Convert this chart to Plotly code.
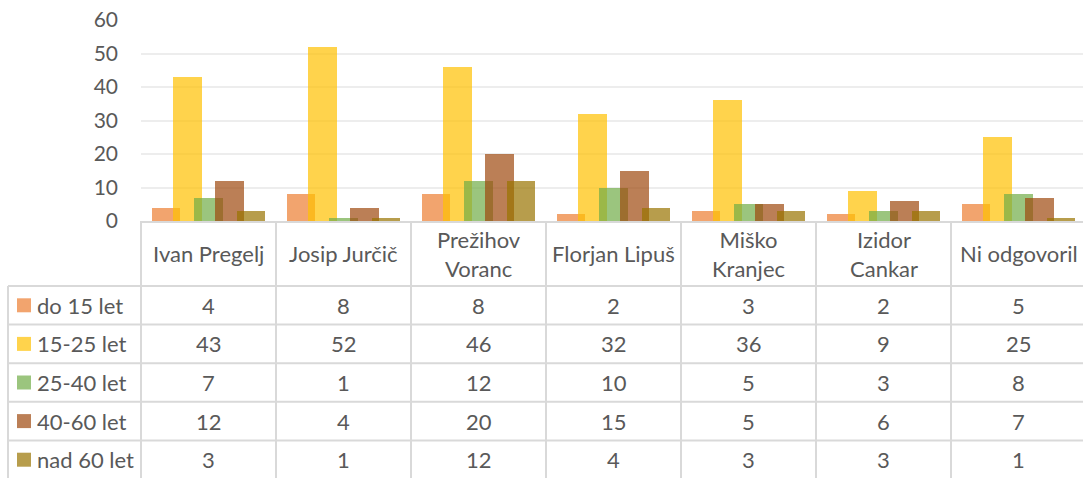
import plotly.graph_objects as go

# ---------------- data ----------------
categories = ["Ivan Pregelj", "Josip Jurčič", "Prežihov<br>Voranc", "Florjan Lipuš",
              "Miško<br>Kranjec", "Izidor<br>Cankar", "Ni odgovoril"]
series_names = ["do 15 let", "15-25 let", "25-40 let", "40-60 let", "nad 60 let"]
do_15 = [4, 8, 8, 2, 3, 2, 5]
od_15_25 = [43, 52, 46, 32, 36, 9, 25]
od_25_40 = [7, 1, 12, 10, 5, 3, 8]
od_40_60 = [12, 4, 20, 15, 5, 6, 7]
nad_60 = [3, 1, 12, 4, 3, 3, 1]
y_ticks = [0, 10, 20, 30, 40, 50, 60]

series_values = [do_15, od_15_25, od_25_40, od_40_60, nad_60]
colors = ["rgba(237,125,49,0.7)", "rgba(255,192,0,0.7)", "rgba(112,173,71,0.7)",
          "rgba(158,72,14,0.7)", "rgba(153,115,0,0.7)"]

# ---------------- layout constants (pixels) ----------------
W, H = 1083, 478
L, T = 141, 20
PLOT_BOTTOM = 221
B = H - PLOT_BOTTOM
CAT_PX = 135.0
HEADER_H = 65
ROW_H = 38.6
TABLE_LEFT = 8
FONT = "Lato"
TXT = "#595959"
LINE = "#D9D9D9"
FS = 22

PLOT_W = W - L
PLOT_H = PLOT_BOTTOM - T
X0 = -0.5
X1 = X0 + PLOT_W / CAT_PX
BAR_W = 28.5 / CAT_PX
STEP = 21.2 / CAT_PX


def px_x(px):
    return (px - L) / PLOT_W


def px_y(py):
    return (PLOT_BOTTOM - py) / PLOT_H


def cat_x(v):
    return (v - X0) / (X1 - X0)


fig = go.Figure()
xs = list(range(len(categories)))
n = len(series_names)
for i, (name, vals, col) in enumerate(zip(series_names, series_values, colors)):
    fig.add_trace(go.Bar(
        x=xs, y=vals, name=name, width=BAR_W,
        offset=(i - (n - 1) / 2) * STEP - BAR_W / 2,
        marker=dict(color=col, line=dict(width=0)),
        showlegend=False, hoverinfo="y+name",
    ))

shapes = []
annotations = []
header_bottom = PLOT_BOTTOM + HEADER_H
table_bottom = header_bottom + ROW_H * n

# vertical lines at category boundaries
for k in range(len(categories) + 1):
    xp = cat_x(k - 0.5)
    if xp > 1.0:
        continue
    shapes.append(dict(type="line", xref="paper", yref="paper", x0=xp, x1=xp,
                       y0=px_y(PLOT_BOTTOM), y1=px_y(table_bottom),
                       line=dict(color=LINE, width=2)))
# left border of row-label column
shapes.append(dict(type="line", xref="paper", yref="paper",
                   x0=px_x(TABLE_LEFT), x1=px_x(TABLE_LEFT),
                   y0=px_y(header_bottom), y1=px_y(table_bottom),
                   line=dict(color=LINE, width=2)))
# horizontal lines
for r in range(n + 1):
    yy = px_y(header_bottom + r * ROW_H)
    shapes.append(dict(type="line", xref="paper", yref="paper",
                       x0=px_x(TABLE_LEFT), x1=1, y0=yy, y1=yy,
                       line=dict(color=LINE, width=2)))

# header labels
for k, c in enumerate(categories):
    annotations.append(dict(xref="x", yref="paper", x=k,
                            y=px_y(PLOT_BOTTOM + HEADER_H / 2), text=c,
                            showarrow=False, xanchor="center", yanchor="middle",
                            font=dict(family=FONT, size=FS, color=TXT)))

# rows: legend key + label + values
for i, (name, vals, col) in enumerate(zip(series_names, series_values, colors)):
    yc = header_bottom + (i + 0.5) * ROW_H
    shapes.append(dict(type="rect", xref="paper", yref="paper",
                       x0=px_x(17), x1=px_x(31), y0=px_y(yc - 7), y1=px_y(yc + 7),
                       fillcolor=col, line=dict(width=0)))
    annotations.append(dict(xref="paper", yref="paper", x=px_x(35), y=px_y(yc),
                            text=name, showarrow=False, xanchor="left",
                            yanchor="middle",
                            font=dict(family=FONT, size=FS, color=TXT)))
    for k, v in enumerate(vals):
        annotations.append(dict(xref="x", yref="paper", x=k, y=px_y(yc),
                                text=str(v), showarrow=False, xanchor="center",
                                yanchor="middle",
                                font=dict(family=FONT, size=FS, color=TXT)))

fig.update_layout(
    width=W, height=H,
    margin=dict(l=L, r=0, t=T, b=B, pad=0),
    paper_bgcolor="white", plot_bgcolor="white",
    barmode="overlay",
    bargap=0,
    xaxis=dict(range=[X0, X1], showticklabels=False, showgrid=False,
               zeroline=False, showline=True, linecolor=LINE, linewidth=2,
               ticks=""),
    yaxis=dict(range=[0, 60], tickvals=y_ticks, showgrid=True,
               gridcolor="#EDEDED", gridwidth=1.5, zeroline=False,
               showline=False, ticks="", ticklabelstandoff=22,
               ticklabeloverflow="allow",
               tickfont=dict(family=FONT, size=21, color=TXT)),
    shapes=shapes,
    annotations=annotations,
    showlegend=False,
)

fig.write_html("out.html",
               config={"displayModeBar": False},
               post_script="document.body.style.margin='0';"
                           "document.body.style.overflow='hidden';")
